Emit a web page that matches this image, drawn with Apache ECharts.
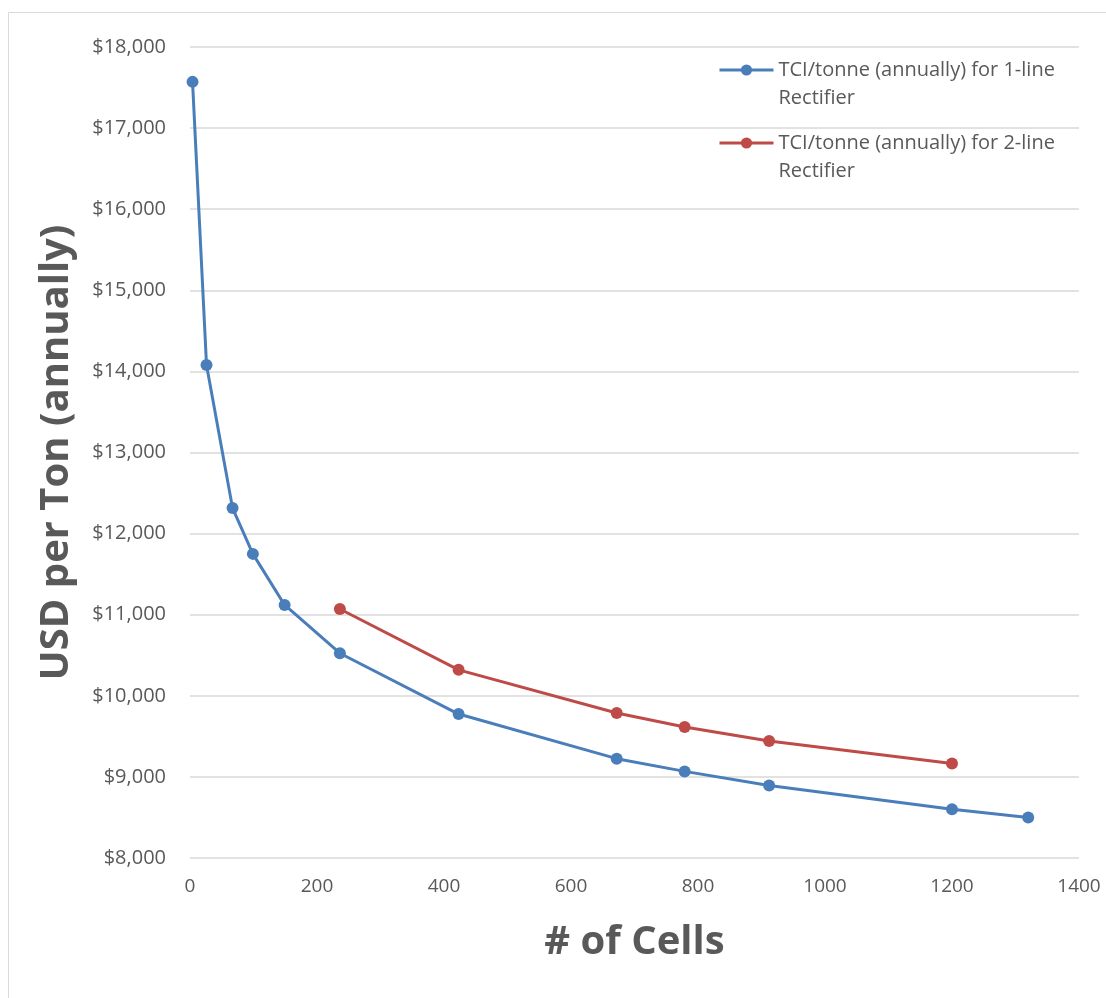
<!DOCTYPE html>
<html>
<head>
<meta charset="utf-8">
<title>TCI per tonne vs number of cells</title>
<script src="https://cdn.jsdelivr.net/npm/echarts@6/dist/echarts.min.js"></script>
<style>
  html, body { margin: 0; padding: 0; background: #ffffff; }
  #chart { width: 1106px; height: 998px; }
</style>
</head>
<body>
<div id="chart"></div>
<script>
// Number of cells (x) for each configuration
const cells1Line = [4, 26, 67, 99, 149, 236, 423, 672, 779, 912, 1200, 1320];
const tci1Line   = [17570, 14080, 12315, 11750, 11120, 10525, 9775, 9225, 9068, 8893, 8600, 8500];

const cells2Line = [236, 423, 672, 779, 912, 1200];
const tci2Line   = [11070, 10320, 9788, 9615, 9442, 9165];

const seriesNames = [
  'TCI/tonne (annually) for 1-line\nRectifier',
  'TCI/tonne (annually) for 2-line\nRectifier'
];

const xAxisTitle = '# of Cells';
const yAxisTitle = 'USD per Ton (annually)';

const pairs = (xs, ys) => xs.map((x, i) => [x, ys[i]]);

const FONT = '"Open Sans", "Liberation Sans", sans-serif';
const GREY = '#595959';

const chart = echarts.init(document.getElementById('chart'), null, { renderer: 'canvas' });

// Legend entries wrap onto two lines; a blank leading line keeps the
// first line level with the icon (the text block is centred on it).
const legendCommon = {
  orient: 'vertical',
  left: 718,
  padding: 0,
  itemWidth: 54,
  itemHeight: 14,
  formatter: name => '\n' + name,
  lineStyle: { width: 3 },
  textStyle: {
    fontFamily: FONT,
    fontSize: 20,
    color: GREY,
    lineHeight: 28
  }
};

chart.setOption({
  animation: false,
  backgroundColor: '#ffffff',
  graphic: [{
    type: 'rect',
    shape: { x: 8.5, y: 12.5, width: 1200, height: 1100 },
    style: { fill: 'none', stroke: '#d9d9d9', lineWidth: 1 },
    silent: true
  }],
  legend: [
    Object.assign({}, legendCommon, { top: 28, data: [seriesNames[0]] }),
    Object.assign({}, legendCommon, { top: 101, data: [seriesNames[1]] })
  ],
  grid: { left: 190, right: 27, top: 47, bottom: 140 },
  xAxis: {
    type: 'value',
    min: 0,
    max: 1400,
    interval: 200,
    name: xAxisTitle,
    nameLocation: 'middle',
    nameGap: 65,
    nameTextStyle: { fontFamily: FONT, fontSize: 40, fontWeight: 'bold', color: GREY },
    axisLine: { show: false },
    axisTick: { show: false },
    splitLine: { show: false },
    axisLabel: {
      fontFamily: FONT, fontSize: 19, color: GREY, margin: 19,
      formatter: v => String(v)
    }
  },
  yAxis: {
    type: 'value',
    min: 8000,
    max: 18000,
    interval: 1000,
    name: yAxisTitle,
    nameLocation: 'middle',
    nameGap: 113,
    nameTextStyle: { fontFamily: FONT, fontSize: 40, fontWeight: 'bold', color: GREY },
    axisLine: { show: false },
    axisTick: { show: false },
    splitLine: { show: true, lineStyle: { color: '#d9d9d9', width: 1.5 } },
    axisLabel: {
      fontFamily: FONT, fontSize: 20, color: GREY, margin: 24,
      formatter: v => '$' + v.toLocaleString('en-US')
    }
  },
  series: [
    {
      name: seriesNames[0],
      type: 'line',
      data: pairs(cells1Line, tci1Line),
      symbol: 'circle',
      symbolSize: 12,
      color: '#4a7ebb',
      lineStyle: { width: 3, color: '#4a7ebb' },
      itemStyle: { color: '#4a7ebb' }
    },
    {
      name: seriesNames[1],
      type: 'line',
      data: pairs(cells2Line, tci2Line),
      symbol: 'circle',
      symbolSize: 12,
      color: '#be4b48',
      lineStyle: { width: 3, color: '#be4b48' },
      itemStyle: { color: '#be4b48' }
    }
  ]
});
</script>
</body>
</html>
